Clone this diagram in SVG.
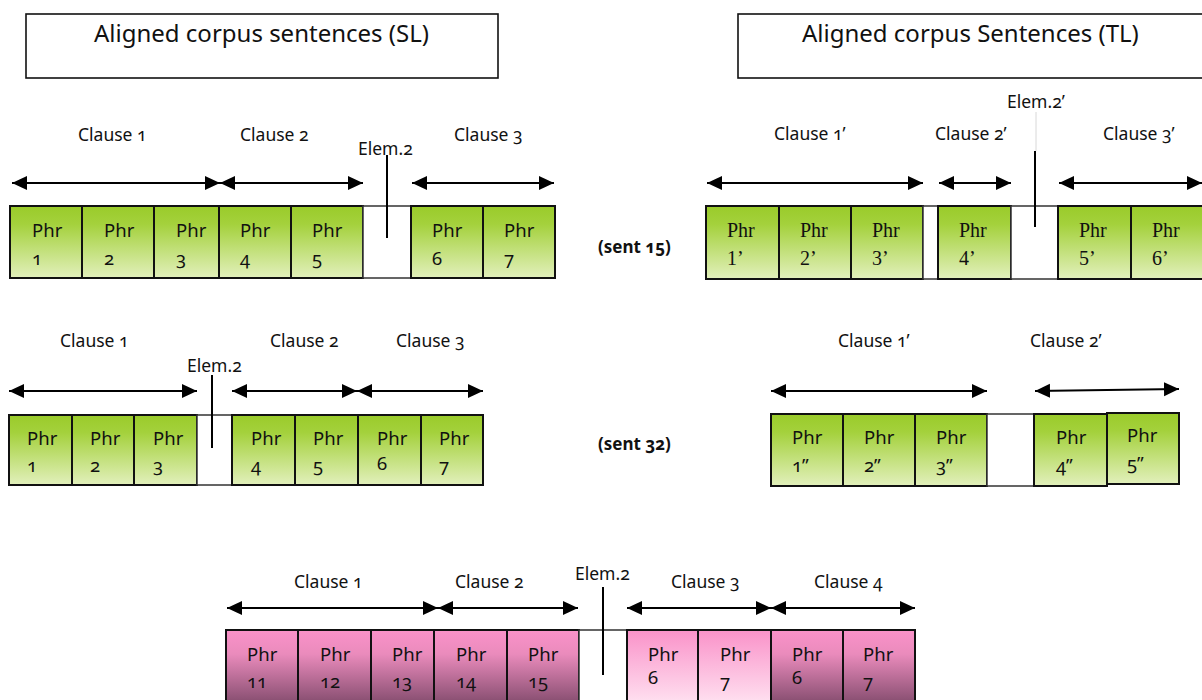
<svg xmlns="http://www.w3.org/2000/svg" width="1202" height="700" viewBox="0 0 1202 700">
  <defs>
    <linearGradient id="gGreen" x1="0" y1="0" x2="0" y2="1">
      <stop offset="0" stop-color="#9ACB2A"/>
      <stop offset="0.25" stop-color="#A4D13C"/>
      <stop offset="1" stop-color="#E2F0BC"/>
    </linearGradient>
    <linearGradient id="gPinkDark" x1="0" y1="0" x2="0" y2="1">
      <stop offset="0" stop-color="#FA92C9"/>
      <stop offset="0.3" stop-color="#EA8BBC"/>
      <stop offset="1" stop-color="#784565"/>
    </linearGradient>
    <linearGradient id="gPinkLight" x1="0" y1="0" x2="0" y2="1">
      <stop offset="0" stop-color="#FA92C9"/>
      <stop offset="1" stop-color="#FFE8F4"/>
    </linearGradient>
    <marker id="head" markerUnits="userSpaceOnUse" markerWidth="16" markerHeight="16" refX="15" refY="7" orient="auto-start-reverse" viewBox="0 0 16 16">
      <path d="M0,0 L15,7 L0,14 z" fill="#000"/>
    </marker>
  </defs>
  <style>
    .sans { font-family: "Noto Sans", "Open Sans", sans-serif; font-variant-numeric: oldstyle-nums; fill: #111; }
    .serif { font-family: "Liberation Serif", "Times New Roman", serif; fill: #111; font-size: 20px; }
    .title { font-size: 24px; }
    .clause { font-size: 17.5px; }
    .phr { font-size: 18.5px; }
    .sent { font-size: 17px; font-weight: bold; }
    .box { fill: #fff; stroke: #111; stroke-width: 1.6; }
    .green { fill: url(#gGreen); stroke: #111; stroke-width: 2; }
    .pdark { fill: url(#gPinkDark); stroke: #111; stroke-width: 2; }
    .plight { fill: url(#gPinkLight); stroke: #111; stroke-width: 2; }
    .gap { fill: #fff; stroke: #333; stroke-width: 1.5; }
    .arrow { stroke: #000; stroke-width: 2; fill: none; marker-start: url(#head); marker-end: url(#head); }
    .tick { stroke: #000; stroke-width: 2; }
  </style>

  <!-- headers -->
  <g id="header-sl">
    <rect class="box" x="26" y="14" width="472" height="64"/>
    <text class="sans title" x="94" y="42">Aligned corpus sentences (SL)</text>
  </g>
  <g id="header-tl">
    <rect class="box" x="738" y="14" width="480" height="64"/>
    <text class="sans title" x="802" y="42">Aligned corpus Sentences (TL)</text>
  </g>

  <!-- sentence 15, source side -->
  <g id="s15-sl">
    <g id="s15-sl-p1"><rect class="green" x="10" y="206" width="72" height="72"/><text class="sans phr" x="32" y="237">Phr</text><text class="sans phr" x="32" y="265">1</text></g>
    <g id="s15-sl-p2"><rect class="green" x="82" y="206" width="72" height="72"/><text class="sans phr" x="104" y="237">Phr</text><text class="sans phr" x="104" y="265">2</text></g>
    <g id="s15-sl-p3"><rect class="green" x="154" y="206" width="65" height="72"/><text class="sans phr" x="176" y="237">Phr</text><text class="sans phr" x="176" y="265">3</text></g>
    <g id="s15-sl-p4"><rect class="green" x="219" y="206" width="72" height="72"/><text class="sans phr" x="240" y="237">Phr</text><text class="sans phr" x="240" y="265">4</text></g>
    <g id="s15-sl-p5"><rect class="green" x="291" y="206" width="72" height="72"/><text class="sans phr" x="312" y="237">Phr</text><text class="sans phr" x="312" y="265">5</text></g>
    <g id="s15-sl-gap"><rect class="gap" x="363" y="206" width="48" height="72"/></g>
    <g id="s15-sl-p6"><rect class="green" x="411" y="206" width="72" height="72"/><text class="sans phr" x="432" y="237">Phr</text><text class="sans phr" x="432" y="265">6</text></g>
    <g id="s15-sl-p7"><rect class="green" x="483" y="206" width="72" height="72"/><text class="sans phr" x="504" y="237">Phr</text><text class="sans phr" x="504" y="265">7</text></g>
    <text class="sans clause" x="78" y="141">Clause 1</text>
    <text class="sans clause" x="240" y="141">Clause 2</text>
    <text class="sans clause" x="454" y="141">Clause 3</text>
    <text class="sans clause" x="358" y="155">Elem.2</text>
  </g>
  <g id="s15-label"><text class="sans sent" x="598" y="253">(sent 15)</text></g>

  <!-- sentence 15, target side -->
  <g id="s15-tl">
    <g id="s15-tl-p1"><rect class="green" x="706" y="206" width="73" height="73"/><text class="serif" x="727" y="237">Phr</text><text class="serif" x="727" y="265">1’</text></g>
    <g id="s15-tl-p2"><rect class="green" x="779" y="206" width="72" height="73"/><text class="serif" x="800" y="237">Phr</text><text class="serif" x="800" y="265">2’</text></g>
    <g id="s15-tl-p3"><rect class="green" x="851" y="206" width="72" height="73"/><text class="serif" x="872" y="237">Phr</text><text class="serif" x="872" y="265">3’</text></g>
    <g id="s15-tl-gap1"><rect class="gap" x="923" y="206" width="15" height="73"/></g>
    <g id="s15-tl-p4"><rect class="green" x="938" y="206" width="73" height="73"/><text class="serif" x="959" y="237">Phr</text><text class="serif" x="959" y="265">4’</text></g>
    <g id="s15-tl-gap2"><rect class="gap" x="1011" y="206" width="47" height="73"/></g>
    <g id="s15-tl-p5"><rect class="green" x="1058" y="206" width="73" height="73"/><text class="serif" x="1079" y="237">Phr</text><text class="serif" x="1079" y="265">5’</text></g>
    <g id="s15-tl-p6"><rect class="green" x="1131" y="206" width="73" height="73"/><text class="serif" x="1152" y="237">Phr</text><text class="serif" x="1152" y="265">6’</text></g>
    <text class="sans clause" x="774" y="140">Clause 1’</text>
    <text class="sans clause" x="935" y="140">Clause 2’</text>
    <text class="sans clause" x="1103" y="140">Clause 3’</text>
    <text class="sans clause" x="1007" y="108">Elem.2’</text>
  </g>

  <!-- sentence 32, source side -->
  <g id="s32-sl">
    <g id="s32-sl-p1"><rect class="green" x="9" y="415" width="63" height="70"/><text class="sans phr" x="27" y="445">Phr</text><text class="sans phr" x="27" y="472">1</text></g>
    <g id="s32-sl-p2"><rect class="green" x="72" y="415" width="62" height="70"/><text class="sans phr" x="90" y="445">Phr</text><text class="sans phr" x="90" y="472">2</text></g>
    <g id="s32-sl-p3"><rect class="green" x="134" y="415" width="63" height="70"/><text class="sans phr" x="153" y="445">Phr</text><text class="sans phr" x="153" y="472">3</text></g>
    <g id="s32-sl-gap"><rect class="gap" x="197" y="415" width="35" height="70"/></g>
    <g id="s32-sl-p4"><rect class="green" x="232" y="415" width="63" height="70"/><text class="sans phr" x="251" y="445">Phr</text><text class="sans phr" x="251" y="472">4</text></g>
    <g id="s32-sl-p5"><rect class="green" x="295" y="415" width="63" height="70"/><text class="sans phr" x="313" y="445">Phr</text><text class="sans phr" x="313" y="472">5</text></g>
    <g id="s32-sl-p6"><rect class="green" x="358" y="415" width="63" height="70"/><text class="sans phr" x="377" y="445">Phr</text><text class="sans phr" x="377" y="470">6</text></g>
    <g id="s32-sl-p7"><rect class="green" x="421" y="415" width="62" height="70"/><text class="sans phr" x="439" y="445">Phr</text><text class="sans phr" x="439" y="472">7</text></g>
    <text class="sans clause" x="60" y="347">Clause 1</text>
    <text class="sans clause" x="270" y="347">Clause 2</text>
    <text class="sans clause" x="396" y="347">Clause 3</text>
    <text class="sans clause" x="187" y="372">Elem.2</text>
  </g>
  <g id="s32-label"><text class="sans sent" x="598" y="450">(sent 32)</text></g>

  <!-- sentence 32, target side -->
  <g id="s32-tl">
    <g id="s32-tl-p1"><rect class="green" x="771" y="414" width="72" height="72"/><text class="sans phr" x="792" y="444">Phr</text><text class="sans phr" x="792" y="472">1”</text></g>
    <g id="s32-tl-p2"><rect class="green" x="843" y="414" width="72" height="72"/><text class="sans phr" x="864" y="444">Phr</text><text class="sans phr" x="864" y="472">2”</text></g>
    <g id="s32-tl-p3"><rect class="green" x="915" y="414" width="72" height="72"/><text class="sans phr" x="936" y="444">Phr</text><text class="sans phr" x="936" y="472">3”</text></g>
    <g id="s32-tl-gap"><rect class="gap" x="987" y="414" width="47" height="72"/></g>
    <g id="s32-tl-p4"><rect class="green" x="1034" y="414" width="73" height="72"/><text class="sans phr" x="1056" y="444">Phr</text><text class="sans phr" x="1056" y="472">4”</text></g>
    <g id="s32-tl-p5"><rect class="green" x="1107" y="413" width="72" height="71" stroke-width="2.6"/><text class="sans phr" x="1127" y="442">Phr</text><text class="sans phr" x="1127" y="470">5”</text></g>
    <text class="sans clause" x="838" y="347">Clause 1’</text>
    <text class="sans clause" x="1030" y="347">Clause 2’</text>
  </g>

  <!-- combined sentence -->
  <g id="merged">
    <g id="m-p11"><rect class="pdark" x="226" y="630" width="72" height="80"/><text class="sans phr" x="247" y="661">Phr</text><text class="sans phr" x="247" y="688">11</text></g>
    <g id="m-p12"><rect class="pdark" x="298" y="630" width="73" height="80"/><text class="sans phr" x="320" y="661">Phr</text><text class="sans phr" x="320" y="688">12</text></g>
    <g id="m-p13"><rect class="pdark" x="371" y="630" width="63" height="80"/><text class="sans phr" x="392" y="661">Phr</text><text class="sans phr" x="392" y="688">13</text></g>
    <g id="m-p14"><rect class="pdark" x="434" y="630" width="73" height="80"/><text class="sans phr" x="456" y="661">Phr</text><text class="sans phr" x="456" y="688">14</text></g>
    <g id="m-p15"><rect class="pdark" x="507" y="630" width="72" height="80"/><text class="sans phr" x="528" y="661">Phr</text><text class="sans phr" x="528" y="688">15</text></g>
    <g id="m-gap"><rect class="gap" x="579" y="630" width="48" height="80"/></g>
    <g id="m-p6a"><rect class="plight" x="627" y="630" width="71" height="80"/><text class="sans phr" x="648" y="661">Phr</text><text class="sans phr" x="648" y="684">6</text></g>
    <g id="m-p7a"><rect class="plight" x="698" y="630" width="73" height="80"/><text class="sans phr" x="720" y="661">Phr</text><text class="sans phr" x="720" y="688">7</text></g>
    <g id="m-p6b"><rect class="pdark" x="771" y="630" width="72" height="80"/><text class="sans phr" x="792" y="661">Phr</text><text class="sans phr" x="792" y="684">6</text></g>
    <g id="m-p7b"><rect class="pdark" x="843" y="630" width="72" height="80"/><text class="sans phr" x="863" y="661">Phr</text><text class="sans phr" x="863" y="688">7</text></g>
    <text class="sans clause" x="294" y="588">Clause 1</text>
    <text class="sans clause" x="455" y="588">Clause 2</text>
    <text class="sans clause" x="671" y="588">Clause 3</text>
    <text class="sans clause" x="814" y="588">Clause 4</text>
    <text class="sans clause" x="575" y="580">Elem.2</text>
  </g>

  <!-- span arrows and element pointers -->
  <g id="connectors">
    <line class="arrow" x1="12" y1="183" x2="220" y2="183"/>
    <line class="arrow" x1="220" y1="183" x2="363" y2="183"/>
    <line class="arrow" x1="412" y1="183" x2="554" y2="183"/>
    <line class="tick" x1="387" y1="155" x2="387" y2="238"/>

    <line class="arrow" x1="707" y1="183" x2="923" y2="183"/>
    <line class="arrow" x1="939" y1="183" x2="1011" y2="183"/>
    <line class="arrow" x1="1059" y1="183" x2="1202" y2="183"/>
    <line x1="1036" y1="112" x2="1036" y2="151" stroke="#d8d8d8" stroke-width="1"/>
    <line class="tick" x1="1035" y1="151" x2="1035" y2="227"/>

    <line class="arrow" x1="9" y1="391" x2="197" y2="391"/>
    <line class="arrow" x1="232" y1="391" x2="357" y2="391"/>
    <line class="arrow" x1="357" y1="391" x2="483" y2="391"/>
    <line class="tick" x1="212" y1="375" x2="212" y2="448"/>

    <line class="arrow" x1="771" y1="391" x2="987" y2="391"/>
    <line class="arrow" x1="1035" y1="391" x2="1179" y2="389"/>

    <line class="arrow" x1="227" y1="608" x2="438" y2="608"/>
    <line class="arrow" x1="438" y1="608" x2="578" y2="608"/>
    <line class="arrow" x1="627" y1="608" x2="771" y2="608"/>
    <line class="arrow" x1="771" y1="608" x2="915" y2="608"/>
    <line class="tick" x1="603" y1="587" x2="603" y2="675"/>
  </g>
</svg>
